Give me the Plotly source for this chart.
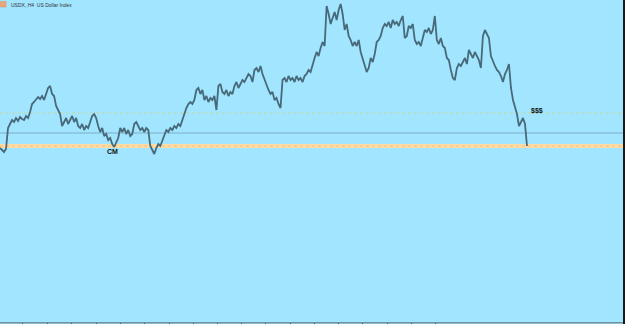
import plotly.graph_objects as go

# USDX H4 close prices
closes = [
    103.52, 103.50, 103.48, 103.51, 103.72, 103.76, 103.80, 103.78, 103.82, 103.79,
    103.83, 103.81, 103.80, 103.84, 103.82, 103.88, 103.96, 103.98, 104.00, 104.03,
    104.01, 104.04, 104.00, 104.06, 104.12, 104.14, 104.06, 104.04, 103.94, 103.90,
    103.86, 103.74, 103.78, 103.82, 103.76, 103.80, 103.84, 103.78, 103.82, 103.74,
    103.72, 103.76, 103.70, 103.74, 103.72, 103.78, 103.84, 103.86, 103.82, 103.74,
    103.68, 103.72, 103.64, 103.66, 103.60, 103.62, 103.56, 103.53, 103.58, 103.62,
    103.72, 103.68, 103.72, 103.66, 103.70, 103.64, 103.66, 103.76, 103.78, 103.74,
    103.70, 103.72, 103.68, 103.72, 103.70, 103.54, 103.50, 103.46, 103.52, 103.56,
    103.54, 103.60, 103.64, 103.70, 103.68, 103.72, 103.70, 103.74, 103.72, 103.76,
    103.74, 103.80, 103.88, 103.92, 103.96, 103.98, 103.96, 104.00, 104.10, 104.12,
    104.06, 104.10, 104.00, 104.04, 103.98, 104.02, 104.00, 104.04, 103.90, 104.14,
    104.16, 104.08, 104.06, 104.10, 104.04, 104.08, 104.06, 104.14, 104.18, 104.12,
    104.16, 104.20, 104.18, 104.22, 104.26, 104.24, 104.18, 104.30, 104.32, 104.28,
    104.34, 104.26, 104.20, 104.14, 104.10, 104.06, 104.08, 104.00, 104.02, 103.96,
    103.92, 104.20, 104.22, 104.18, 104.24, 104.20, 104.22, 104.18, 104.24, 104.20,
    104.22, 104.18, 104.24, 104.26, 104.30, 104.28, 104.36, 104.42, 104.48, 104.44,
    104.52, 104.58, 104.54, 104.94, 104.86, 104.76, 104.82, 104.88, 104.80, 104.90,
    104.96, 104.86, 104.70, 104.76, 104.64, 104.60, 104.54, 104.58, 104.54, 104.60,
    104.48, 104.42, 104.34, 104.28, 104.32, 104.42, 104.38, 104.46, 104.58, 104.60,
    104.64, 104.72, 104.76, 104.74, 104.78, 104.72, 104.80, 104.76, 104.78, 104.74,
    104.80, 104.84, 104.62, 104.64, 104.74, 104.72, 104.76, 104.60, 104.56, 104.58,
    104.54, 104.62, 104.70, 104.68, 104.72, 104.66, 104.70, 104.84, 104.60, 104.56,
    104.62, 104.54, 104.52, 104.42, 104.40, 104.30, 104.22, 104.20, 104.32, 104.36,
    104.34, 104.38, 104.42, 104.36, 104.50, 104.46, 104.42, 104.48, 104.44, 104.40,
    104.32, 104.64, 104.70, 104.66, 104.62, 104.44, 104.38, 104.34, 104.30, 104.28,
    104.24, 104.18, 104.26, 104.30, 104.36, 104.12, 104.00, 103.92, 103.86, 103.74,
    103.78, 103.82, 103.76, 103.54,
]
bars = list(range(len(closes)))

# horizontal levels
level_dotted = 103.87
level_solid = 103.67
zone_top = 103.56
zone_bottom = 103.52
zone_mid = 103.54

# labels
labels = ["CM", "$$$"]
label_bars = [55.9, 268.0]
label_prices = [103.49, 103.89]

title_text = "USDX, H4  US Dollar Index"

px_per_bar = 527 / (len(closes) - 1)
plot_w = 623
x_max = plot_w / px_per_bar
tick_px = [22.3, 47.3, 71.7, 96, 120.3, 144.7, 169, 193.3, 217.3, 241.7,
           265.7, 290, 314.3, 338.3, 362.7, 387, 411, 435.3]
tickvals = [p / px_per_bar for p in tick_px]

BG = "#A2E5FE"

fig = go.Figure()

# orange support zone
fig.add_shape(type="rect", xref="paper", yref="y", x0=0, x1=1,
              y0=zone_bottom, y1=zone_top, fillcolor="#FCDCA4",
              line=dict(width=0), layer="below")
fig.add_shape(type="line", xref="paper", yref="y", x0=0, x1=1,
              y0=zone_mid, y1=zone_mid,
              line=dict(color="#F2BE7E", width=1, dash="dot"), layer="below")
fig.add_shape(type="line", xref="paper", yref="y", x0=0, x1=1,
              y0=level_solid, y1=level_solid,
              line=dict(color="#7FAFC6", width=1), layer="below")
fig.add_shape(type="line", xref="paper", yref="y", x0=0, x1=1,
              y0=level_dotted, y1=level_dotted,
              line=dict(color="#C9D89A", width=1, dash="dot"), layer="below")

fig.add_trace(go.Scatter(
    x=bars, y=closes, mode="lines",
    line=dict(color="#47697A", width=1.8),
    hoverinfo="skip", showlegend=False,
))

for t, xb, yp in zip(labels, label_bars, label_prices):
    fig.add_annotation(x=xb, y=yp, text="<b>%s</b>" % t, showarrow=False,
                       font=dict(family="Liberation Sans", size=7, color="#111111"),
                       xanchor="center", yanchor="middle")

# title
fig.add_annotation(xref="paper", yref="paper", x=9 / plot_w, y=1.0,
                   text=title_text, showarrow=False, xanchor="left", yanchor="top",
                   font=dict(family="Liberation Sans", size=5, color="#333333"))
# symbol icon
fig.add_shape(type="rect", xref="paper", yref="paper",
              x0=0.5 / plot_w, x1=6 / plot_w, y0=1 - 7 / 322, y1=1 - 1.5 / 322,
              fillcolor="#EFA57A", line=dict(color="#D98A60", width=0.5))

# right border
fig.add_shape(type="rect", xref="paper", yref="paper",
              x0=1.0, x1=1.0 + 3 / plot_w, y0=-0.02, y1=1.0,
              fillcolor="#1A1A1A", line=dict(width=0))

fig.update_layout(
    width=625, height=324,
    margin=dict(l=0, r=2, t=0, b=2, pad=0),
    paper_bgcolor="#8FB9C9",
    plot_bgcolor=BG,
    xaxis=dict(range=[0, x_max], showgrid=False, zeroline=False,
               showline=True, linecolor="#6F93A3", linewidth=1,
               ticks="outside", ticklen=3, tickcolor="#44606E", tickwidth=1,
               tickmode="array", tickvals=tickvals, showticklabels=False,
               fixedrange=True),
    yaxis=dict(range=[101.78, 105.0], showgrid=False, zeroline=False,
               showticklabels=False, showline=False, ticks="", fixedrange=True),
)

fig.write_html("out.html")
